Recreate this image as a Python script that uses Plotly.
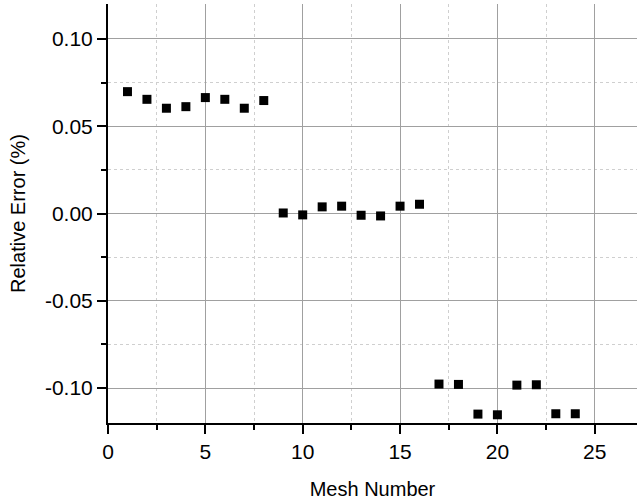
import plotly.graph_objects as go

# Relative error for each mesh
mesh_number = list(range(1, 25))
relative_error = [
    0.0698, 0.0654, 0.0603, 0.0612, 0.0664, 0.0654, 0.0603, 0.0647,
    0.0003, -0.0008, 0.0038, 0.0042, -0.0010, -0.0014, 0.0042, 0.0053,
    -0.0977, -0.0979, -0.1149, -0.1153, -0.0983, -0.0981, -0.1147, -0.1147,
]

x_ticks = [0, 5, 10, 15, 20, 25]
y_ticks = [-0.10, -0.05, 0.00, 0.05, 0.10]
y_tick_text = ["-0.10", "-0.05", "0.00", "0.05", "0.10"]

font_family = "Liberation Sans, Arial, sans-serif"

fig = go.Figure()
fig.add_trace(go.Scatter(
    x=mesh_number,
    y=relative_error,
    mode="markers",
    marker=dict(symbol="square", size=9, color="black", line=dict(width=0)),
    showlegend=False,
))

axis_common = dict(
    showline=True,
    linecolor="black",
    linewidth=2,
    ticks="outside",
    ticklen=9,
    tickwidth=1.5,
    tickcolor="black",
    showgrid=True,
    gridcolor="#a0a0a0",
    gridwidth=1,
    zeroline=False,
    tickfont=dict(family=font_family, size=21, color="black"),
    mirror=False,
)

minor_grid = dict(ticks="outside", ticklen=5, tickwidth=1.5, tickcolor="black",
                  showgrid=True, gridcolor="#cfcfcf", griddash="3px,3px", gridwidth=1)

fig.update_xaxes(
    **axis_common,
    range=[0, 27.17],
    tickvals=x_ticks,
    ticktext=[str(v) for v in x_ticks],
    minor=dict(dtick=2.5, tick0=0, **minor_grid),
    title=dict(text="Mesh Number", font=dict(family=font_family, size=20, color="black"),
               standoff=20),
)
fig.update_yaxes(
    **axis_common,
    range=[-0.12, 0.12],
    tickvals=y_ticks,
    ticktext=y_tick_text,
    minor=dict(dtick=0.025, tick0=0, **minor_grid),
    title=dict(text="Relative Error (%)", font=dict(family=font_family, size=20, color="black"),
               standoff=14),
)

fig.update_layout(
    width=637,
    height=501,
    margin=dict(l=108, r=0, t=4, b=78),
    plot_bgcolor="white",
    paper_bgcolor="white",
    font=dict(family=font_family, color="black"),
)

fig.write_html("out.html")
